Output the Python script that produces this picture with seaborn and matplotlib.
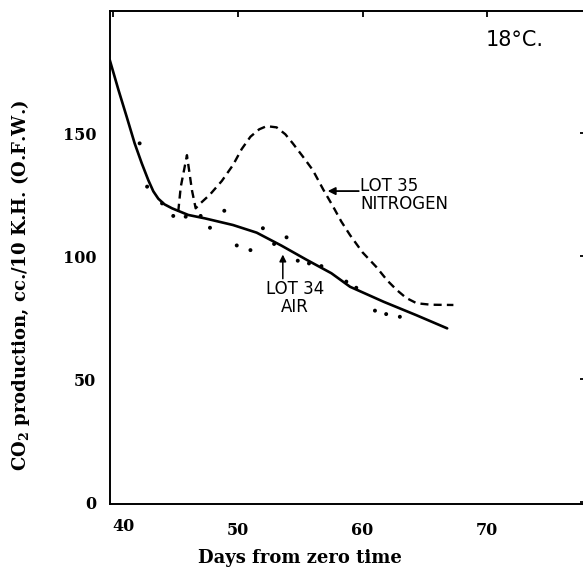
import matplotlib
matplotlib.use("Agg")
import matplotlib.pyplot as plt
import matplotlib.transforms as mtransforms
import seaborn as sns
import pandas as pd

# ---- data ----
air_curve_days = [39.7, 40.4, 41.06, 41.7, 42.27, 42.8, 43.2, 43.6, 44.1, 44.7, 46.0, 47.35,
                  49.6, 51.5, 53.5, 55.5, 57.5, 59.0, 61.7, 64.3, 66.8]
air_curve_co2 = [179.7, 167.5, 156.6, 145.8, 137.7, 130.8, 126.3, 123.3, 121.0, 119.4, 116.7, 115.3,
                 112.6, 109.5, 104.2, 98.5, 93, 87.5, 81.4, 76, 70.6]

n2_curve_days = [45.2, 45.4, 45.9, 46.3, 46.6, 47.0, 47.75, 48.7, 49.6, 50.3,
                 51.0, 51.7, 52.3, 53.1, 53.8, 54.4, 55.2, 56.0, 56.85, 57.65,
                 58.3, 59.0, 60.0, 61.1, 62.0, 62.75, 63.5, 64.35, 65.5, 67.3]
n2_curve_co2 = [118, 128, 141, 126.8, 119.4, 121.5, 125, 130.5, 137, 143.5,
                148.5, 151.5, 152.8, 152.3, 149.5, 145.8, 140.5, 135, 127, 120,
                114, 108.5, 101.5, 95.6, 90, 86.2, 83, 80.8, 80.2, 80.1]

air_obs_days = [42.1, 42.7, 43.9, 44.8, 45.8, 47.0, 47.75, 48.9, 49.9, 51.0,
                52.0, 52.9, 53.9, 54.8, 55.7, 56.7, 58.7, 59.5, 61.0, 61.9, 63.0]
air_obs_co2 = [145.8, 128.2, 121.4, 116.3, 116.0, 116.3, 111.5, 118.4, 104.3, 102.4,
               111.3, 104.9, 107.6, 98.1, 97.0, 95.9, 89.6, 87.1, 77.8, 76.4, 75.3]

x_ticks = [40, 50, 60, 70]
y_ticks = [0, 50, 100, 150]

# ---- styling ----
sns.set_theme(style="white")
plt.rcParams["font.family"] = ["DejaVu Serif"]
plt.rcParams["mathtext.fontset"] = "dejavuserif"
plt.rcParams["text.color"] = "black"
plt.rcParams["axes.labelcolor"] = "black"
plt.rcParams["xtick.color"] = "black"
plt.rcParams["ytick.color"] = "black"

fig = plt.figure(figsize=(5.83, 5.75), dpi=100)
ax = fig.add_axes([110 / 583, 71 / 575, 476 / 583, 493 / 575])

air_curve = pd.DataFrame({"day": air_curve_days, "co2": air_curve_co2})
n2_curve = pd.DataFrame({"day": n2_curve_days, "co2": n2_curve_co2})
air_obs = pd.DataFrame({"day": air_obs_days, "co2": air_obs_co2})

sns.lineplot(data=air_curve, x="day", y="co2", ax=ax, color="black",
             linewidth=1.9, sort=False)
sns.lineplot(data=n2_curve, x="day", y="co2", ax=ax, color="black",
             linewidth=1.7, linestyle=(0, (3.4, 2.2)), sort=False)
sns.scatterplot(data=air_obs, x="day", y="co2", ax=ax, color="black",
                s=8, edgecolor="none")

ax.set_xlim(39.72, 77.95)
ax.set_ylim(-0.8, 199.6)
ax.set_xticks(x_ticks)
ax.set_yticks(y_ticks)
ax.set_xticklabels([str(t) for t in x_ticks])
ax.set_yticklabels([str(t) for t in y_ticks])

for side in ["left", "bottom", "top", "right"]:
    ax.spines[side].set_color("black")
    ax.spines[side].set_linewidth(1.4)

ax.tick_params(axis="both", which="major", direction="in", length=4, width=1.3,
               color="black", labelcolor="black", top=True, right=True,
               labelsize=11.5)
ax.tick_params(axis="x", pad=13)
ax.tick_params(axis="y", pad=10)
for lab in ax.get_xticklabels() + ax.get_yticklabels():
    lab.set_fontweight("bold")
# the "40" label sits a little right of its tick in the original
first = ax.get_xticklabels()[0]
first.set_transform(first.get_transform() +
                    mtransforms.ScaledTranslation(10 / 100, 4 / 100, fig.dpi_scale_trans))

ax.set_xlabel("Days from zero time", fontsize=13, fontweight="bold", va="center")
ax.xaxis.set_label_coords(0.399, -0.1095)
ax.set_ylabel("CO$_{\\mathbf{2}}$ production, cc./10 K.H. (O.F.W.)", fontsize=13,
              fontweight="bold", va="center")
ax.yaxis.set_label_coords(-0.189, 0.444)

# annotations
ax.text(72.25, 187.8, "18°C.", fontsize=15, family="DejaVu Sans",
        ha="center", va="center", color="black")

ax.annotate("", xy=(57.2, 126.4), xytext=(59.7, 126.4),
            arrowprops=dict(arrowstyle="-|>", color="black", lw=1.3,
                            mutation_scale=11, shrinkA=0, shrinkB=0))
ax.text(59.8, 125, "LOT 35\nNITROGEN", fontsize=12, family="DejaVu Sans",
        ha="left", va="center", linespacing=1.0, color="black")

ax.annotate("", xy=(53.6, 100.6), xytext=(53.6, 90.8),
            arrowprops=dict(arrowstyle="-|>", color="black", lw=1.1,
                            mutation_scale=10, shrinkA=0, shrinkB=0))
ax.text(54.58, 83.1, "LOT 34\nAIR", fontsize=12, family="DejaVu Sans",
        ha="center", va="center", linespacing=1.0, multialignment="center",
        color="black")

fig.savefig("out.png", dpi=100)
